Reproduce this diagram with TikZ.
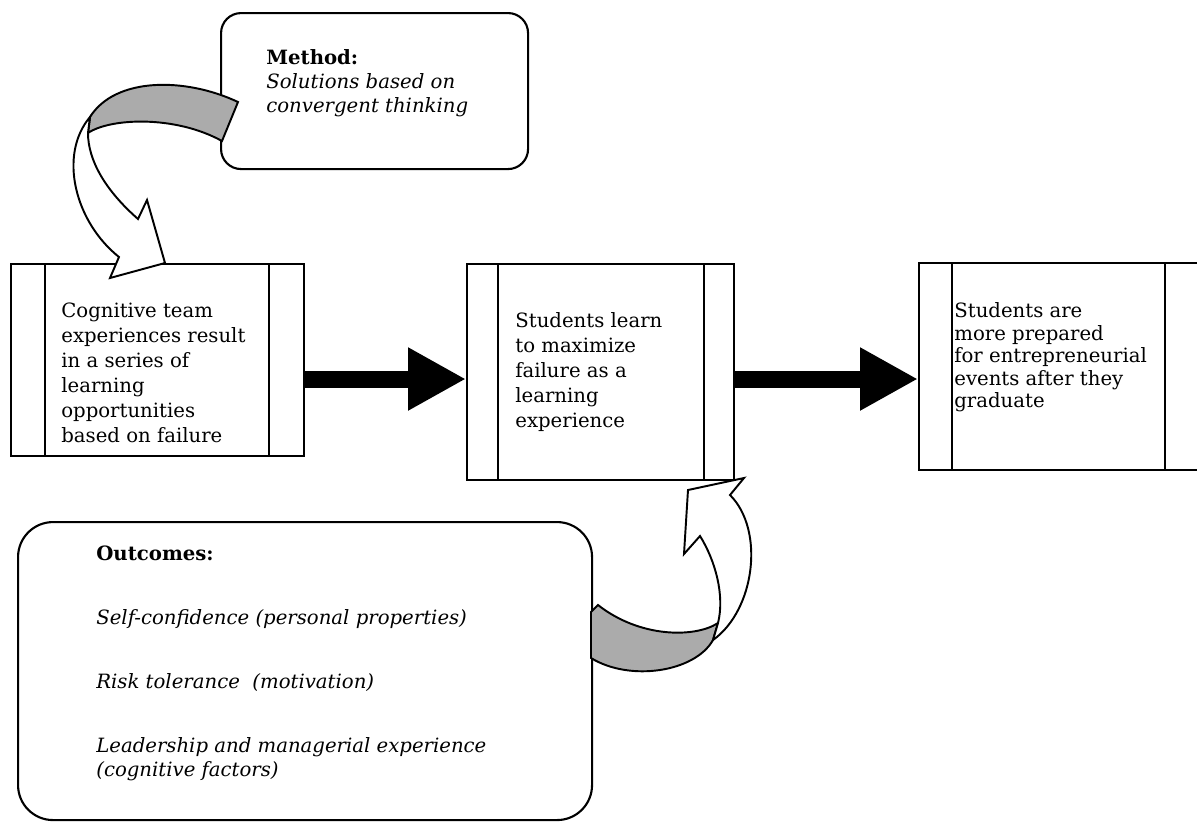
\documentclass[tikz,border=0pt]{standalone}
\usepackage{fontspec}
\setmainfont{DejaVu Serif}
\usetikzlibrary{arrows.meta}

\tikzset{
    stage/.style={draw, line width=1.3pt, fill=white, inner sep=0pt, anchor=north west},
    stagetext/.style={anchor=west, align=left, inner sep=0pt, font=\fontsize{11.2}{14.2}\selectfont},
    notebox/.style={draw, line width=1.2pt, fill=white, rounded corners=#1, inner sep=0pt, anchor=north west},
    bigarrow/.style={line width=0.34cm, -{Triangle[width=1.18cm,length=1.16cm]}},
    bentarrow/.style={draw, line width=1.1pt, line join=miter}
}

\begin{document}
\begin{tikzpicture}
        \useasboundingbox (0,0) rectangle (23.94,-16.44);
        \clip (0,0) rectangle (23.94,-16.44);
    % The three stages.
        \node[stage, minimum width=5.86cm, minimum height=3.84cm] (cogn) at (0.2,-5.26) {};
        \node[stage, minimum width=5.34cm, minimum height=4.32cm] (learn) at (9.32,-5.26) {};
        \node[stage, minimum width=5.64cm, minimum height=4.14cm] (prep) at (18.36,-5.24) {};
        \foreach \b/\l/\r in {cogn/0.7/0.72, learn/0.64/0.62, prep/0.68/0.74}{
            \draw[line width=1.3pt] ([xshift=\l cm]\b.north west) -- ([xshift=\l cm]\b.south west);
            \draw[line width=1.3pt] ([xshift=-\r cm]\b.north east) -- ([xshift=-\r cm]\b.south east);
        }
        \node[stagetext] (cognt) at (1.22,-7.45) {Cognitive team\\experiences result\\in a series of\\learning\\opportunities\\based on failure};
        \node[stagetext] (learnt) at (10.3,-7.44) {Students learn\\to maximize\\failure as a\\learning\\experience};
        \node[stagetext, font=\fontsize{11.2}{12.8}\selectfont] (prept) at (19.08,-7.15) {Students are\\more prepared\\for entrepreneurial\\events after they\\graduate};
    % Black arrows between the stages.
        \coordinate (flow) at (0,-7.58);
        \draw[bigarrow] (cogn.east |- flow) -- (learn.west |- flow);
        \draw[bigarrow] (learn.east |- flow) -- (prep.west |- flow);
    % The two rounded note boxes.
        \node[notebox=0.4cm, minimum width=6.14cm, minimum height=3.12cm] (method) at (4.4,-0.24) {};
        \node[anchor=west, align=left, inner sep=0pt, font=\fontsize{11.2}{13.6}\selectfont] (methodt) at (5.32,-1.66) {\textbf{Method:}\\\textit{Solutions based on}\\\textit{convergent thinking}};
        \node[notebox=0.7cm, minimum width=11.48cm, minimum height=5.96cm] (outc) at (0.34,-10.42) {};
        \node[anchor=west, align=left, inner sep=0pt, font=\fontsize{11.2}{13.6}\selectfont] (outct) at (1.92,-13.27) {\textbf{Outcomes:}\\[0.8cm]\textit{Self-confidence (personal properties)}\\[0.8cm]\textit{Risk tolerance\ \ (motivation)}\\[0.8cm]\textit{Leadership and managerial experience}\\\textit{(cognitive factors)}};
    % Top bent arrow, method box into the first stage.
        \filldraw[bentarrow, fill=black!33] (4.76,-2.04) .. controls (3.70,-1.54) and (2.30,-1.54) .. (1.80,-2.34) -- (1.76,-2.66) .. controls (2.20,-2.36) and (3.50,-2.30) .. (4.44,-2.82) -- cycle;
        \filldraw[bentarrow, fill=white] (1.80,-2.34) .. controls (1.16,-3.10) and (1.50,-4.44) .. (2.38,-5.14) -- (2.20,-5.56) -- (3.30,-5.26) -- (2.94,-4.00) -- (2.76,-4.38) .. controls (2.10,-3.80) and (1.76,-3.20) .. (1.76,-2.66) -- cycle;
    % Bottom bent arrow, outcomes box up to the second stage.
        \filldraw[bentarrow, fill=black!33] (11.96,-12.10) .. controls (12.80,-12.76) and (13.90,-12.76) .. (14.36,-12.46) -- (14.26,-12.80) .. controls (13.90,-13.44) and (12.60,-13.64) .. (11.82,-13.16) -- (11.82,-12.24) -- cycle;
        \filldraw[bentarrow, fill=white] (14.36,-12.46) .. controls (14.50,-11.90) and (14.30,-11.20) .. (14.00,-10.72) -- (13.68,-11.08) -- (13.76,-9.80) -- (14.88,-9.56) -- (14.60,-9.90) .. controls (15.30,-10.60) and (15.10,-12.20) .. (14.26,-12.80) -- cycle;
    \end{tikzpicture}
\end{document}
